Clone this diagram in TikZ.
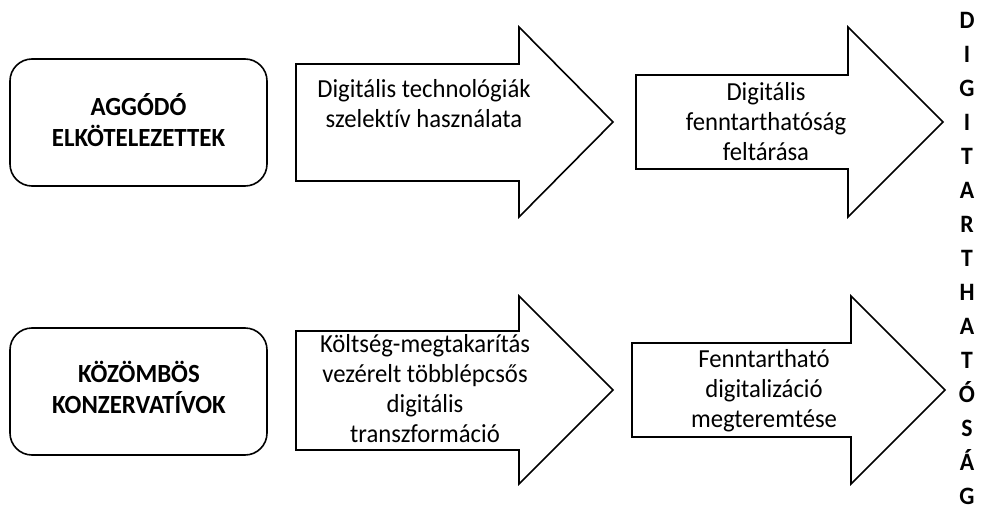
\documentclass[tikz,border=0pt]{standalone}
\usepackage{fontspec}
\setmainfont{Carlito}[Ligatures=NoCommon, FakeStretch=0.95]
\begin{document}
\begin{tikzpicture}[x=1pt,y=-1pt, line width=1.6pt, line join=miter,
  box/.style={draw, rounded corners=22pt, minimum width=257pt, minimum height=127pt, inner sep=0pt},
  arr/.style={draw},
  btext/.style={font=\fontsize{26.2}{31}\selectfont\bfseries, align=center, anchor=base, inner sep=0pt},
  atext/.style={font=\fontsize{26}{30}\selectfont, align=center, anchor=base, inner sep=0pt},
  vl/.style={font=\fontsize{25}{28}\selectfont\bfseries, anchor=base, inner sep=0pt}]
\useasboundingbox (0,0) rectangle (988,519);
% boxes
\node[box] (b1) at (138.5,122.5) {};
\node[box] (b2) at (138.5,391.5) {};
\node[btext] (t1) at (138.5,146) {AGGÓDÓ\\ELKÖTELEZETTEK};
\node[btext] (t2) at (139,413) {KÖZÖMBÖS\\KONZERVATÍVOK};
% arrows
\draw[arr] (296,64) -- (519,64) -- (519,27) -- (613,122) -- (519,217) -- (519,181) -- (296,181) -- cycle;
\draw[arr] (636,75) -- (848,75) -- (848,27) -- (943,122) -- (848,217) -- (848,169) -- (636,169) -- cycle;
\draw[arr] (296,331) -- (519,331) -- (519,296) -- (613,390) -- (519,484) -- (519,450) -- (296,450) -- cycle;
\draw[arr] (632,343) -- (851,343) -- (851,296) -- (945,390) -- (851,484) -- (851,437) -- (632,437) -- cycle;
% arrow texts
\node[atext] (a1) at (424,127) {Digitális technológiák\\szelektív használata};
\node[atext] (a2) at (766,160) {Digitális\\fenntarthatóság\\feltárása};
\node[atext] (a3) at (425,442) {Költség-megtakarítás\\vezérelt többlépcsős\\digitális\\transzformáció};
\node[atext] (a4) at (764,427) {Fenntartható\\digitalizáció\\megteremtése};
% vertical word
\foreach \l [count=\i from 0] in {D,I,G,I,T,A,R,T,H,A,T,Ó,S,Á,G}
  \node[vl] (v\i) at (967,28.5+34*\i) {\l};
\end{tikzpicture}
\end{document}
